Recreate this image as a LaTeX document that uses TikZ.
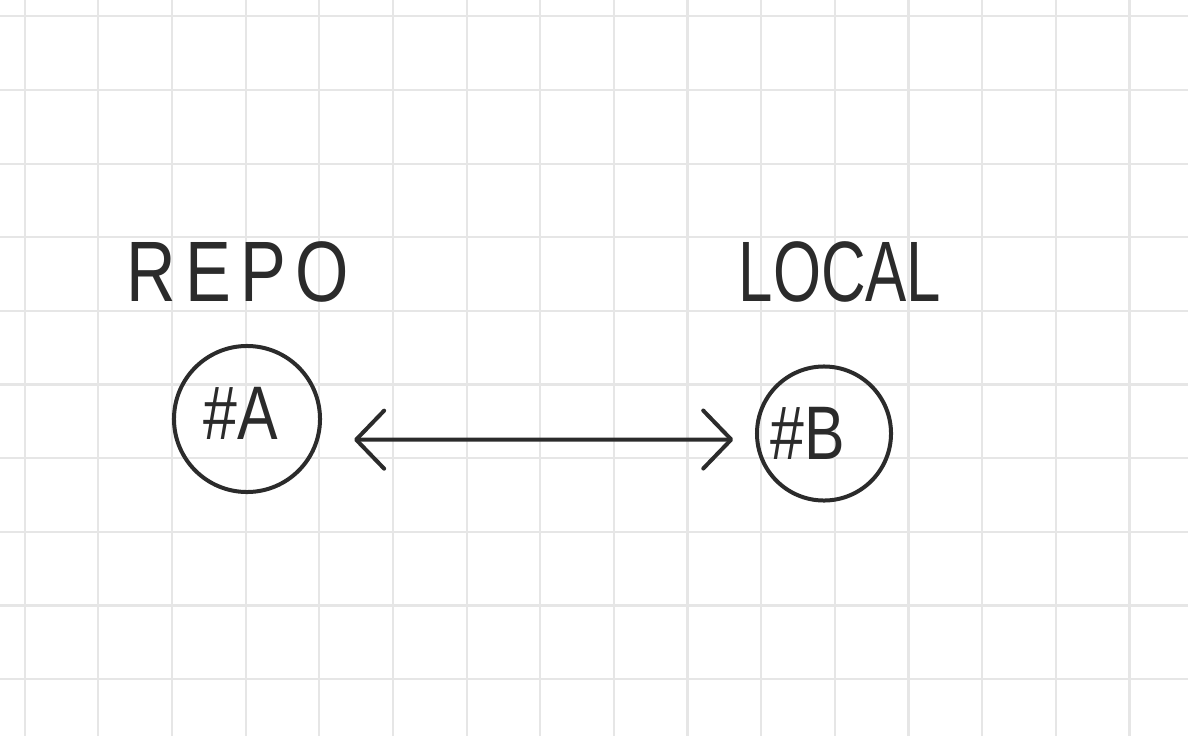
\documentclass[tikz,border=0pt]{standalone}
\usepackage{fontspec}
\usetikzlibrary{arrows.meta, automata}
\newfontfamily\handfont[FakeStretch=0.8]{Liberation Sans}
\definecolor{ink}{HTML}{2B2B2B}
\definecolor{gridline}{HTML}{E6E6E6}

\begin{document}
\begin{tikzpicture}[
            x = 0.025cm, y = -0.025cm, % one unit per pixel
            > = {Straight Barb[length=0.7cm, width=1.45cm, round]}, % open arrow head
            line cap = round,
            ink
        ]

        \tikzstyle{every state}=[
            draw = ink,
            line width = 0.1cm,
            fill = none,
            inner sep = 0pt,
            font = \handfont\fontsize{54}{54}\selectfont
        ]
        \tikzstyle{title}=[
            inner sep = 0pt,
            text = ink,
            font = \handfont\fontsize{61}{61}\selectfont
        ]

        % paper and grid
        \fill[white] (0,0) rectangle (1188,736);
        \useasboundingbox (0,0) rectangle (1188,736);
        \foreach \i in {0,...,15}
            \draw[gridline, line width=0.055cm, line cap=butt] (24.7+73.65*\i, 0) -- (24.7+73.65*\i, 736);
        \foreach \j in {0,...,9}
            \draw[gridline, line width=0.055cm, line cap=butt] (0, 16.3+73.65*\j) -- (1188, 16.3+73.65*\j);

        \node[title] (repo) at (238, 272) {\addfontfeature{LetterSpace=11}REPO};
        \node[title] (local) at (840, 272) {\addfontfeature{FakeStretch=0.72}LOCAL};

        % text sits a little left of the centre in both circles
        \node[state, minimum size=3.65cm] (a) at (247, 419) {\#A\hspace{0.3cm}\rule[-0.3cm]{0pt}{0pt}};
        \node[state, minimum size=3.35cm] (b) at (824, 433.5) {\#B\hspace{0.8cm}\mbox{}};

        \draw[<->, line width=0.1cm, shorten <=0.875cm, shorten >=0.55cm] (a.-16) -- (b.185);
    \end{tikzpicture}
\end{document}
